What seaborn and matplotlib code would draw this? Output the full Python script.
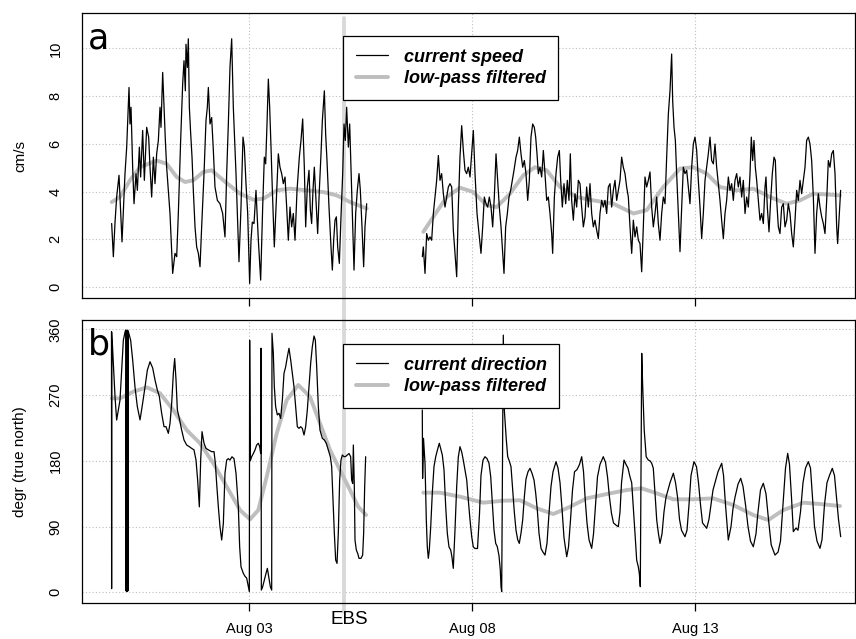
import numpy as np
import pandas as pd
import matplotlib
matplotlib.use("Agg")
import matplotlib.pyplot as plt
import matplotlib.dates as mdates
from matplotlib.lines import Line2D
from matplotlib.transforms import blended_transform_factory, offset_copy
import seaborn as sns

# ---------------- data (time in days relative to Aug 03 00:00) ----------------
start_date = "2015-08-03"
ebs_day = 2.126
tick_dates = ["2015-08-03", "2015-08-08", "2015-08-13"]
tick_labels = ["Aug 03", "Aug 08", "Aug 13"]

speed_day_1 = [-3.084, -3.046, -3.009, -2.972, -2.919, -2.882, -2.852, -2.785, -2.747, -2.695,
               -2.673, -2.650, -2.613, -2.583, -2.538, -2.508, -2.463, -2.434, -2.389, -2.351,
               -2.299, -2.254, -2.224, -2.187, -2.149, -2.112, -2.075, -2.037, -2.000, -1.978,
               -1.940, -1.910, -1.880, -1.851, -1.776, -1.716, -1.664, -1.626, -1.589, -1.537,
               -1.492, -1.462, -1.432, -1.417, -1.387, -1.365, -1.342, -1.312, -1.282, -1.253,
               -1.215, -1.178, -1.140, -1.103, -1.066, -1.013, -0.969, -0.939, -0.916, -0.879,
               -0.842, -0.804, -0.767, -0.714, -0.655, -0.595, -0.543, -0.505, -0.468, -0.431,
               -0.393, -0.356, -0.296,
               -0.229, -0.184, -0.139, -0.109, -0.072, -0.034, 0.010, 0.040, 0.070, 0.108,
               0.152, 0.205, 0.257, 0.302, 0.339, 0.369, 0.399, 0.429, 0.459, 0.489,
               0.519, 0.563, 0.608, 0.653, 0.690, 0.728, 0.765, 0.803, 0.840, 0.877,
               0.915, 0.952, 0.989, 1.027, 1.072, 1.124, 1.161, 1.199, 1.236, 1.266,
               1.303, 1.341, 1.371, 1.400, 1.430, 1.460, 1.498, 1.535, 1.572, 1.610,
               1.640, 1.685, 1.714, 1.744, 1.789, 1.834, 1.864, 1.894, 1.924, 1.954,
               1.984, 2.021, 2.058, 2.096, 2.126, 2.155, 2.185, 2.223, 2.253, 2.282,
               2.312, 2.350, 2.387, 2.424, 2.462, 2.492, 2.529, 2.566, 2.596, 2.634]
speed_val_1 = [2.66, 1.27, 2.70, 3.77, 4.68, 3.08, 1.89, 4.75, 5.86, 8.36,
               6.83, 7.53, 5.02, 3.49, 4.75, 4.05, 5.86, 4.61, 6.56, 4.47,
               6.69, 6.27, 5.02, 3.77, 5.44, 4.33, 5.58, 6.14, 7.53, 6.69,
               8.99, 7.53, 6.14, 5.02, 3.08, 0.57, 1.41, 1.27, 3.08, 6.14,
               8.50, 9.48, 8.22, 10.17, 9.20, 10.40, 7.53, 6.42, 5.44, 4.05,
               2.52, 1.68, 1.41, 0.85, 2.52, 4.75, 6.97, 7.53, 8.36, 6.83,
               7.10, 5.72, 4.19, 3.63, 3.49, 3.08, 2.10, 4.75, 6.83, 9.20,
               10.40, 7.53, 4.75,
               1.06, 3.35, 6.28, 5.86, 4.33, 3.08, 0.15, 1.96, 2.72, 2.66,
               4.05, 1.96, 0.29, 3.35, 5.44, 5.16, 6.83, 8.71, 7.53, 5.86,
               4.05, 1.68, 3.63, 5.58, 5.02, 4.75, 4.33, 4.61, 3.35, 1.96,
               3.35, 2.52, 3.08, 1.96, 4.05, 5.44, 6.14, 7.04, 5.02, 2.52,
               4.19, 4.89, 3.22, 2.66, 4.05, 5.02, 3.63, 2.24, 4.05, 5.58,
               6.97, 8.22, 6.42, 5.30, 3.35, 1.68, 0.71, 1.96, 2.80, 2.94,
               1.68, 0.99, 2.94, 4.75, 6.83, 6.14, 7.53, 5.86, 6.83, 5.02,
               3.08, 0.71, 3.08, 4.05, 4.75, 4.05, 2.52, 0.85, 2.52, 3.49]

speed_day_2 = [3.882, 3.904, 3.942, 3.979, 4.016, 4.054, 4.091, 4.129, 4.166, 4.203,
               4.241, 4.278, 4.315, 4.353, 4.390, 4.428, 4.465, 4.502, 4.540, 4.577,
               4.614, 4.652, 4.689, 4.726, 4.764, 4.801, 4.839, 4.876, 4.913, 4.951,
               4.988, 5.025, 5.063, 5.108, 5.152, 5.197, 5.235, 5.272, 5.309, 5.347,
               5.384, 5.422, 5.459, 5.496, 5.534, 5.571, 5.608, 5.646, 5.683, 5.713,
               5.750, 5.788, 5.825, 5.862, 5.900, 5.937, 5.982, 6.019, 6.057, 6.094,
               6.132, 6.169, 6.206, 6.244, 6.281, 6.318, 6.356, 6.393, 6.423, 6.453,
               6.483, 6.520, 6.558, 6.595, 6.632, 6.670, 6.707, 6.744, 6.782, 6.804,
               6.842, 6.879, 6.916, 6.954, 6.984, 7.021, 7.058, 7.096, 7.133, 7.170,
               7.200, 7.230, 7.268, 7.305, 7.342, 7.380, 7.417, 7.454, 7.492, 7.529,
               7.566, 7.604, 7.641, 7.679, 7.716, 7.753, 7.791, 7.828, 7.865, 7.903,
               7.940, 7.977, 8.015, 8.052, 8.090, 8.127, 8.164, 8.202, 8.239, 8.276,
               8.314, 8.351, 8.388, 8.426, 8.463, 8.501, 8.538,
               8.576, 8.613, 8.650, 8.688, 8.725, 8.762, 8.800, 8.837, 8.874, 8.912,
               8.949, 8.987, 9.024, 9.061, 9.099, 9.136, 9.173, 9.211, 9.248, 9.285,
               9.323, 9.360, 9.398, 9.435, 9.472, 9.495, 9.525, 9.555, 9.584, 9.622,
               9.659, 9.697, 9.734, 9.771, 9.809, 9.846, 9.883, 9.921, 9.958, 9.995,
               10.033, 10.070, 10.108, 10.145, 10.182, 10.220, 10.257, 10.294, 10.332, 10.369,
               10.407, 10.444, 10.481, 10.519, 10.556, 10.593, 10.631, 10.668, 10.705, 10.743,
               10.780, 10.818, 10.855, 10.892, 10.930, 10.967, 11.004, 11.042, 11.079, 11.117,
               11.154, 11.191, 11.229, 11.258, 11.288, 11.318, 11.348, 11.378, 11.415, 11.453,
               11.490, 11.528, 11.565, 11.587, 11.617, 11.655, 11.692, 11.729, 11.767, 11.797,
               11.827, 11.864, 11.901, 11.939, 11.976, 12.013, 12.051, 12.088, 12.126, 12.163,
               12.200, 12.238, 12.275, 12.312, 12.350, 12.387, 12.425, 12.462, 12.499, 12.537,
               12.574, 12.611, 12.649, 12.686, 12.723, 12.761, 12.798, 12.836, 12.873, 12.910,
               12.948, 12.985, 13.022, 13.060, 13.097, 13.135, 13.172, 13.194, 13.224, 13.261]
speed_val_2 = [1.27, 1.68, 0.57, 2.24, 1.96, 2.10, 1.96, 3.08, 3.77, 4.47,
               5.51, 4.47, 4.75, 3.91, 3.35, 3.77, 4.19, 4.33, 4.19, 2.38,
               1.41, 0.43, 3.35, 5.44, 6.76, 5.72, 4.89, 4.75, 5.02, 4.61,
               5.58, 6.56, 4.75, 3.08, 2.24, 1.41, 2.52, 3.77, 3.49, 3.35,
               3.77, 3.35, 2.52, 3.77, 5.58, 4.47, 3.35, 2.52, 1.41, 0.57,
               2.52, 3.08, 3.77, 4.05, 4.47, 4.89, 5.44, 5.72, 6.28, 5.58,
               5.02, 5.30, 4.75, 3.63, 4.47, 6.28, 6.83, 6.69, 6.28, 5.58,
               4.75, 5.02, 4.61, 5.72, 4.75, 3.63, 3.77, 3.08, 2.24, 1.41,
               3.77, 4.75, 5.44, 5.72, 4.47, 3.35, 4.33, 3.49, 4.47, 3.63,
               5.58, 3.63, 2.80, 3.91, 3.35, 4.47, 4.33, 3.35, 2.52, 2.94,
               4.19, 3.35, 4.33, 3.08, 2.52, 2.80, 2.38, 2.03, 3.08, 3.63,
               3.35, 3.63, 3.08, 4.19, 4.33, 3.35, 4.05, 4.47, 3.63, 4.05,
               4.47, 5.44, 5.02, 4.75, 4.19, 3.77, 2.52,
               1.41, 2.80, 2.10, 2.52, 1.96, 1.82, 0.64, 2.52, 4.61, 4.19,
               4.47, 4.82, 3.35, 2.52, 3.08, 3.77, 2.66, 1.96, 3.08, 3.77,
               3.49, 5.44, 7.25, 8.22, 9.76, 7.80, 6.69, 6.14, 4.75, 3.08,
               1.48, 3.35, 5.02, 4.75, 4.89, 4.19, 3.49, 5.02, 5.99, 6.28,
               5.72, 4.47, 3.35, 2.03, 3.08, 4.47, 5.02, 5.58, 6.28, 5.30,
               5.16, 5.99, 5.02, 4.33, 3.63, 2.80, 2.03, 3.08, 3.63, 4.61,
               4.05, 4.33, 3.63, 4.47, 4.75, 4.19, 4.61, 3.77, 4.47, 3.08,
               3.77, 3.35, 4.75, 6.28, 5.30, 6.14, 5.02, 4.47, 3.63, 2.80,
               3.08, 2.66, 4.19, 4.61, 3.35, 2.31, 3.63, 4.75, 5.44, 5.30,
               3.63, 2.52, 2.24, 3.35, 3.49, 2.52, 2.80, 3.49, 3.08, 2.24,
               1.68, 2.80, 4.05, 3.63, 4.47, 3.91, 4.47, 5.02, 6.14, 6.28,
               5.99, 5.30, 3.77, 1.41, 3.08, 3.91, 3.35, 2.94, 2.66, 2.24,
               3.63, 5.30, 5.02, 5.58, 5.72, 4.75, 2.52, 1.82, 2.80, 4.05]

speed_lp_day_1 = [-3.083, -2.897, -2.673, -2.448, -2.074, -1.850, -1.626, -1.439, -1.253, -1.029,
                  -0.841, -0.581, -0.206, 0.092, 0.316, 0.617, 0.915, 1.289, 1.661, 1.962,
                  2.260, 2.635]
speed_lp_1 = [3.56, 3.77, 4.47, 5.02, 5.30, 5.16, 4.61, 4.40, 4.47, 4.82,
              4.89, 4.47, 3.91, 3.66, 3.70, 4.05, 4.12, 4.05, 3.98, 3.84,
              3.56, 3.29]
speed_lp_day_2 = [3.904, 4.128, 4.428, 4.726, 5.025, 5.325, 5.549, 5.848, 6.146, 6.408,
                  6.670, 6.969, 7.343, 7.715, 8.164, 8.612, 8.913, 9.285, 9.659, 9.957,
                  10.258, 10.556, 10.930, 11.303, 11.677, 12.052, 12.350, 12.648, 12.948, 13.247]
speed_lp_2 = [2.31, 2.94, 3.77, 4.16, 3.98, 3.42, 3.35, 3.91, 4.68, 5.02,
              4.89, 4.19, 3.77, 3.63, 3.49, 3.08, 3.22, 4.19, 4.96, 5.02,
              4.75, 4.19, 4.05, 4.12, 3.77, 3.49, 3.63, 3.91, 3.88, 3.84]

dir_day_1 = [-3.088, -3.085, -3.081, -3.009, -2.972, -2.934, -2.897, -2.860, -2.822, -2.785,
             -2.770, -2.762, -2.747, -2.740, -2.725, -2.718, -2.710, -2.658, -2.613, -2.561,
             -2.508, -2.448, -2.389, -2.336, -2.284, -2.224, -2.164, -2.112, -2.060, -2.015,
             -1.963, -1.910, -1.865, -1.813, -1.776, -1.738, -1.701, -1.671, -1.641, -1.611,
             -1.567, -1.514, -1.462, -1.402, -1.342, -1.290, -1.238, -1.193, -1.156, -1.118,
             -1.088, -1.058, -1.013, -0.969, -0.916, -0.842, -0.789, -0.759, -0.730, -0.692,
             -0.655, -0.617, -0.580, -0.543, -0.505, -0.468, -0.431, -0.386, -0.341, -0.296,
             -0.244, -0.214, -0.184, -0.132, -0.094, -0.057, -0.019, 0.003, 0.010, 0.025,
             0.055, 0.093, 0.130, 0.167, 0.205, 0.235, 0.257, 0.265, 0.272, 0.302,
             0.339, 0.377, 0.407, 0.436, 0.474, 0.504, 0.511, 0.541, 0.563, 0.593,
             0.631, 0.668, 0.705, 0.743, 0.780, 0.818, 0.855, 0.892, 0.930, 0.967,
             1.004, 1.042, 1.079, 1.117, 1.154, 1.191, 1.229, 1.266, 1.303, 1.341,
             1.378, 1.415, 1.453, 1.483, 1.513, 1.550, 1.587, 1.640, 1.685, 1.729,
             1.774, 1.819, 1.849, 1.879, 1.909, 1.939, 1.969, 1.998, 2.028, 2.058,
             2.088, 2.126, 2.163, 2.200, 2.238, 2.275, 2.297, 2.320, 2.335, 2.357,
             2.372, 2.402, 2.432, 2.462, 2.507, 2.544, 2.566, 2.589, 2.611]
dir_val_1 = [357, 5, 356, 267.7, 235.8, 250, 263, 304, 345, 356,
             359, 2, 358, 1, 359, 2, 357, 345, 318, 281,
             254, 236, 259, 281, 304, 315.6, 307, 290.6, 276.9, 268,
             245, 226.7, 226.7, 217.6, 231, 259, 299.7, 320, 290.6, 249.5,
             238, 222, 208.5, 201.6, 199.3, 197, 195, 181, 153.7, 117,
             181, 219.9, 204, 197, 195, 192.5, 192.5, 176.6, 149.2, 117,
             89.8, 71.6, 94, 163, 181, 183, 181, 185.5, 183, 163,
             117, 62.4, 35, 26, 21.9, 19.5, 7.7, 1, 345, 180,
             185.6, 190, 194.8, 201.6, 204, 199.3, 190, 334, 3.1, 7.7,
             16.8, 26, 32.8, 21.9, 7.7, 3.1, 354.5, 327, 281.4, 254,
             242.8, 245, 238, 263, 299.7, 308.8, 322.3, 334, 318, 299.7,
             281.4, 254, 226.7, 224.4, 226.7, 224.4, 215.3, 226.7, 249.5, 281.4,
             313.4, 336, 350.8, 345, 308.8, 254, 222, 210.8, 208.5, 204,
             194.8, 185.6, 172, 126, 80.8, 44.2, 39.6, 80.8, 153.7, 181,
             188, 185.6, 186, 188, 190, 185.6, 153.7, 149, 201.6, 144.6,
             71.6, 57.9, 53.4, 46.5, 46.5, 51, 80.8, 144.6, 185.6]

dir_day_2 = [3.881, 3.888, 3.908, 3.942, 3.971, 3.993, 4.016, 4.038, 4.070, 4.105,
             4.143, 4.182, 4.217, 4.262, 4.300, 4.330, 4.368, 4.406, 4.442, 4.480,
             4.518, 4.547, 4.576, 4.614, 4.652, 4.688, 4.726, 4.765, 4.800, 4.839,
             4.877, 4.913, 4.951, 4.989, 5.025, 5.063, 5.119, 5.164, 5.197, 5.242,
             5.287, 5.332, 5.377, 5.415, 5.451, 5.489, 5.527, 5.563, 5.601, 5.630,
             5.646, 5.661, 5.697, 5.720, 5.765, 5.796, 5.825, 5.870, 5.908, 5.944,
             5.982, 6.020, 6.056, 6.094, 6.132, 6.168, 6.206, 6.251, 6.296, 6.341,
             6.386, 6.424, 6.460, 6.498, 6.543, 6.587, 6.632, 6.677, 6.722, 6.767,
             6.812, 6.879, 6.924, 6.969, 7.013, 7.058, 7.119, 7.159, 7.204, 7.249,
             7.294, 7.350, 7.406, 7.455, 7.496, 7.536, 7.574, 7.619, 7.679, 7.720,
             7.765, 7.809, 7.865, 7.939, 7.989, 8.034, 8.078, 8.123, 8.168, 8.224,
             8.276, 8.314, 8.348, 8.404, 8.449, 8.493, 8.538, 8.576, 8.612, 8.650,
             8.688, 8.724, 8.747, 8.769, 8.801, 8.823, 8.857, 8.901, 8.949, 8.987,
             9.025, 9.060, 9.099, 9.137, 9.175, 9.211, 9.256, 9.300, 9.345, 9.390,
             9.435, 9.510, 9.559, 9.605, 9.648, 9.693, 9.771, 9.816, 9.861, 9.906,
             9.973, 10.029, 10.074, 10.119, 10.164, 10.258, 10.309, 10.355, 10.399, 10.444,
             10.511, 10.594, 10.635, 10.679, 10.742, 10.803, 10.848, 10.892, 10.960, 11.020,
             11.072, 11.128, 11.184, 11.240, 11.303, 11.363, 11.408, 11.464, 11.527, 11.587,
             11.643, 11.704, 11.789, 11.857, 11.912, 11.969, 12.025, 12.074, 12.114, 12.159,
             12.200, 12.260, 12.305, 12.361, 12.417, 12.473, 12.536, 12.585, 12.630, 12.675,
             12.731, 12.798, 12.843, 12.899, 12.955, 13.011, 13.074, 13.123, 13.168, 13.213,
             13.262]
dir_val_2 = [249.5, 156, 210.8, 176.6, 99, 62.4, 46.5, 57.9, 89.8, 135.5,
             172, 185.6, 194, 204, 195, 188, 167.4, 117, 80.8, 62,
             58, 48, 32.8, 85.2, 144.6, 185, 199.3, 192, 181, 167.4,
             153.7, 126, 99, 76.1, 62, 60, 60, 108, 160, 181,
             185.6, 183, 176.6, 158.2, 121.8, 85.2, 67, 62.4, 50, 30.5,
             7.7, 1, 352, 249.5, 208.5, 185.6, 181, 172, 140, 110,
             85, 72, 67, 80.8, 99, 130, 155, 165, 169.7, 163,
             153.7, 135.5, 112.6, 80.8, 60, 55, 51, 67, 108, 145,
             165, 178.8, 170, 150, 115, 75, 48.7, 62, 99, 140,
             165, 168, 175, 185.6, 165, 125, 95, 72, 60.2, 80,
             120, 158, 175, 185.6, 178, 158, 130, 108, 95, 92,
             89.8, 110, 150, 181, 175, 170, 158, 150, 117, 80.8,
             44, 35, 26, 7.7, 327, 281, 222, 185.6, 181, 180,
             176.6, 170, 135.5, 99, 80.8, 67, 80, 110, 130, 140,
             150, 163, 150, 130, 100, 85, 76.1, 85, 120, 160,
             178.8, 172, 150, 120, 95, 87.6, 100, 120, 140, 150,
             165, 176.6, 160, 120, 71.6, 90, 115, 130, 148, 156,
             145, 120, 90, 70, 62.4, 80, 110, 140, 149.2, 135,
             100, 65, 51, 55, 70, 120, 170, 190.2, 175, 130,
             83, 88, 85, 110, 150, 170, 178.8, 170, 130, 90,
             70, 60.2, 72, 120, 150, 160, 169.7, 160, 130, 100,
             76.1]

dir_lp_day_1 = [-3.083, -2.897, -2.599, -2.298, -2.000, -1.702, -1.401, -1.103, -0.805, -0.504,
                -0.206, 0.018, 0.204, 0.392, 0.617, 0.841, 1.101, 1.363, 1.587, 1.812,
                2.036, 2.260, 2.446, 2.619]
dir_lp_1 = [265.5, 265.5, 274.6, 280.6, 272.4, 249.5, 222, 204, 176.6, 144.6,
            112.6, 99.9, 112.6, 158.2, 217.6, 263.2, 283.7, 267.7, 231.3, 194.8,
            167.4, 140, 117, 105.8]
dir_lp_day_2 = [3.904, 4.278, 4.726, 5.249, 5.697, 6.072, 6.446, 6.818, 7.193, 7.567,
                8.016, 8.464, 8.800, 9.137, 9.509, 9.957, 10.406, 10.854, 11.303, 11.639,
                11.975, 12.424, 12.798, 13.247]
dir_lp_2 = [136.4, 136.4, 130.9, 122.7, 125.4, 126, 115, 107.2, 117, 128.6,
            134.5, 140, 142.3, 135.5, 127.3, 127.3, 128.6, 119.5, 105.8, 99,
            112.6, 122.7, 120.9, 118.1]

# ---------------- helpers ----------------
t0 = pd.Timestamp(start_date)


def to_time(days):
    return t0 + pd.to_timedelta(np.asarray(days, dtype=float), unit="D")


def frame(segments):
    parts = []
    for i, (d, v) in enumerate(segments):
        if len(d) != len(v):
            raise ValueError(f"length mismatch in segment {i}: {len(d)} vs {len(v)}")
        parts.append(pd.DataFrame({"time": to_time(d), "value": v, "segment": i}))
    return pd.concat(parts, ignore_index=True)


speed_df = frame([(speed_day_1, speed_val_1), (speed_day_2, speed_val_2)])
speed_lp_df = frame([(speed_lp_day_1, speed_lp_1), (speed_lp_day_2, speed_lp_2)])
dir_df = frame([(dir_day_1, dir_val_1), (dir_day_2, dir_val_2)])
dir_lp_df = frame([(dir_lp_day_1, dir_lp_1), (dir_lp_day_2, dir_lp_2)])

# ---------------- style ----------------
sns.set_theme(style="white")
plt.rcParams["font.family"] = ["Liberation Sans", "DejaVu Sans"]
plt.rcParams["text.color"] = "black"

RAW = "black"
LP = "#BEBEBE"
EBSC = "#D9D9D9"
GRID = "#BDBDBD"

fig = plt.figure(figsize=(8.56, 6.39), dpi=100)
ax_a = fig.add_axes([82 / 856, 1 - 298 / 639, 773 / 856, 285 / 639])
ax_b = fig.add_axes([82 / 856, 1 - 603 / 639, 773 / 856, 283 / 639])

xlim = (to_time([-3.749])[0], to_time([13.583])[0])
ebs_time = to_time([ebs_day])[0]
xt = [pd.Timestamp(d) for d in tick_dates]

panels = [
    (ax_a, speed_df, speed_lp_df, (-0.46, 11.48), [0, 2, 4, 6, 8, 10], "cm/s",
     ["current speed", "low-pass filtered"], "a", 0.919, (-0.08, 0.982)),
    (ax_b, dir_df, dir_lp_df, (-14.6, 372.7), [0, 90, 180, 270, 360], "degr (true north)",
     ["current direction", "low-pass filtered"], "b", 0.915, (-0.032, 1.0)),
]

for ax, raw, lp, ylim, yt, ylab, leg_labels, letter, leg_top, ebs_span in panels:
    ax.set_facecolor("white")
    ax.axvline(ebs_time, ymin=ebs_span[0], ymax=ebs_span[1], color=EBSC, lw=2.8,
               zorder=1, clip_on=False)
    sns.lineplot(data=lp, x="time", y="value", units="segment", estimator=None, sort=False,
                 color=LP, lw=2.8, ax=ax, zorder=2, legend=False,
                 solid_joinstyle="round", solid_capstyle="round")
    sns.lineplot(data=raw, x="time", y="value", units="segment", estimator=None, sort=False,
                 color=RAW, lw=0.9, ax=ax, zorder=3, legend=False)
    ax.set_xlim(xlim)
    ax.set_ylim(ylim)
    ax.set_yticks(yt)
    ax.set_xticks(xt)
    ax.set_xticklabels(tick_labels)
    ax.grid(True, color=GRID, linestyle=(0, (1, 2)), lw=0.8)
    ax.set_axisbelow(True)
    for sp in ax.spines.values():
        sp.set_visible(True)
        sp.set_color("black")
        sp.set_linewidth(0.9)
    ax.tick_params(axis="x", bottom=True, direction="out", length=5.8, width=0.9,
                   color="black", labelsize=10.5, pad=8, labelcolor="black")
    ax.tick_params(axis="y", left=False, length=0, labelsize=10.5, pad=14,
                   labelrotation=90, labelcolor="black")
    for lab in ax.get_yticklabels():
        lab.set_va("center")
    ax.set_xlabel("")
    ax.set_ylabel(ylab, fontsize=11, color="black")
    ax.yaxis.set_label_coords(-0.071, 0.5)
    ax.text(0.008, 0.877, letter, transform=ax.transAxes, fontsize=25,
            family="DejaVu Sans", ha="left", va="baseline", color="black", zorder=6)
    handles = [Line2D([], [], color=RAW, lw=0.9), Line2D([], [], color=LP, lw=2.8)]
    leg = ax.legend(handles=handles, labels=leg_labels, loc="upper left",
                    bbox_to_anchor=(0.338, leg_top), borderaxespad=0, fancybox=False,
                    edgecolor="black", framealpha=1, handlelength=1.75,
                    handletextpad=0.9, borderpad=0.7, labelspacing=0.25,
                    labelcolor="black",
                    prop={"family": "Liberation Sans", "weight": "bold",
                          "style": "italic", "size": 13})
    leg.get_frame().set_linewidth(0.9)
    leg.set_zorder(10)

ax_a.tick_params(axis="x", labelbottom=False)

trans = blended_transform_factory(ax_b.transData, ax_b.transAxes)
trans = offset_copy(trans, fig=fig, x=5, y=0, units="dots")
ax_b.text(mdates.date2num(ebs_time), -0.06, "EBS", transform=trans, ha="center",
          va="center", fontsize=13.5, color="black")

fig.savefig("out.png", dpi=100)
